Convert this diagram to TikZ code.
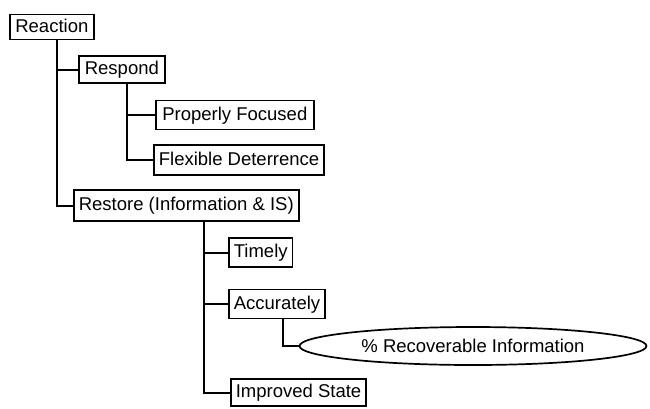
\documentclass[tikz,border=0pt]{standalone}
\usepackage{fontspec}
\setmainfont{Liberation Sans}
\usetikzlibrary{shapes.geometric}
\begin{document}
\begin{tikzpicture}[x=1pt,y=-1pt,
  box/.style={draw, line width=1.7pt, anchor=west, inner xsep=5pt, inner ysep=0pt,
    font=\fontsize{18.5}{22}\selectfont, text height=13.5pt, text depth=3.5pt},
  oval/.style={draw, ellipse, line width=1.7pt, inner sep=0pt,
    font=\fontsize{18.5}{22}\selectfont},
  conn/.style={line width=2pt}]
\useasboundingbox (0,0) rectangle (650,408);
\node[box, minimum height=25pt, minimum width=84pt] (reaction) at (9,27) {Reaction};
\node[box, minimum height=27pt, minimum width=86pt] (respond) at (78,69.5) {Respond};
\node[box, minimum height=29pt, minimum width=158pt] (pf) at (155,115) {Properly Focused};
\node[box, minimum height=30pt] (fd) at (153,160) {Flexible Deterrence};
\node[box, minimum height=31pt] (restore) at (73,205.5) {Restore (Information \& IS)};
\node[box, minimum height=29pt] (timely) at (228,252.5) {Timely};
\node[box, minimum height=29pt] (accur) at (228,304) {Accurately};
\node[oval, minimum width=347pt, minimum height=38pt] (rec) at (473,346) {\% Recoverable Information};
\node[box, minimum height=27pt] (improved) at (230,392.5) {Improved State};
\coordinate (t1) at (57,0);
\coordinate (t2) at (127,0);
\coordinate (t3) at (204,0);
\coordinate (t4) at (283,0);
\draw[conn] (reaction.south -| t1) |- (restore.west);
\draw[conn] (respond.west -| t1) -- (respond.west);
\draw[conn] (respond.south -| t2) |- (fd.west);
\draw[conn] (pf.west -| t2) -- (pf.west);
\draw[conn] (restore.south -| t3) |- (improved.west);
\draw[conn] (timely.west -| t3) -- (timely.west);
\draw[conn] (accur.west -| t3) -- (accur.west);
\draw[conn] (accur.south -| t4) |- (rec.west);
\end{tikzpicture}
\end{document}
